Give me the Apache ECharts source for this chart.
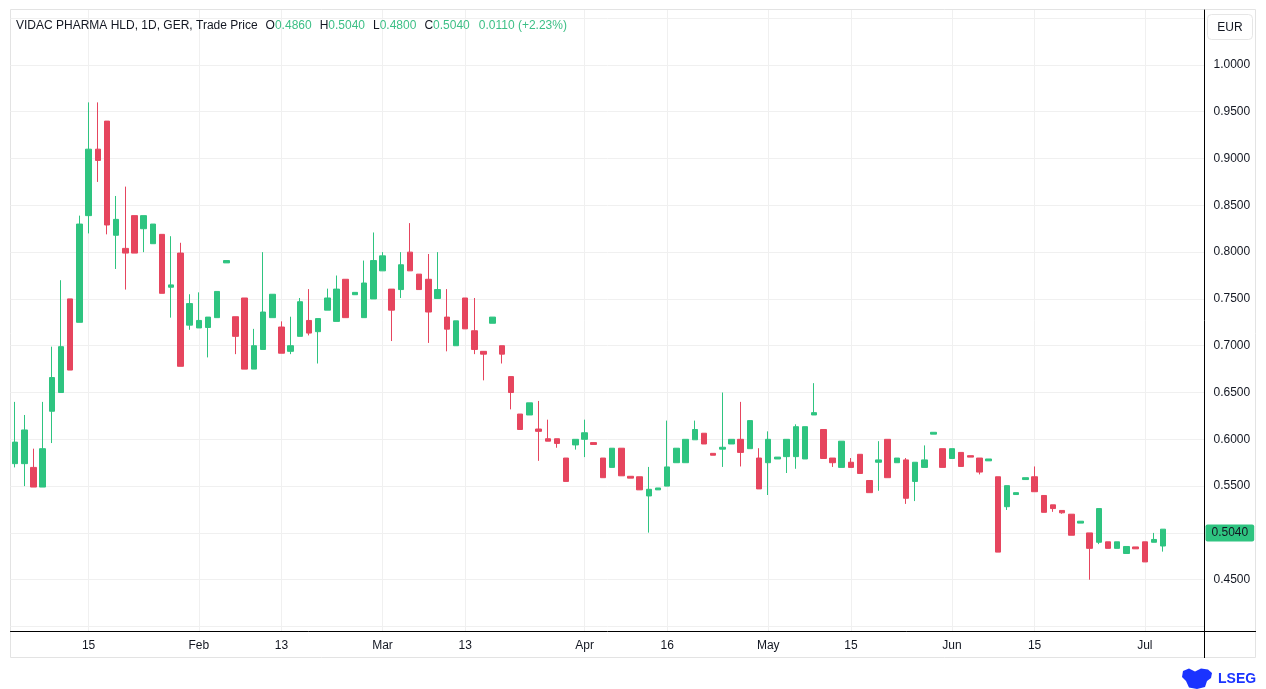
<!DOCTYPE html>
<html>
<head>
<meta charset="utf-8">
<script src="https://cdn.jsdelivr.net/npm/echarts@6/dist/echarts.min.js"></script>
<style>
html,body{margin:0;padding:0;background:#ffffff;}
#chart{width:1266px;height:689px;}
</style>
</head>
<body>
<div id="chart"></div>
<script>
// ---- Instrument / header info ----
const instrumentName = 'VIDAC PHARMA HLD';
const barInterval = '1D';
const exchangeName = 'GER';
const priceField = 'Trade Price';
const currency = 'EUR';

// ---- Daily OHLC values ----
const opens = [
  0.574,0.574,0.570,0.549,0.630,0.650,0.750,0.725,0.839,0.910,
  0.940,0.818,0.804,0.839,0.825,0.809,0.819,0.7625,0.799,0.722,
  0.719,0.7195,0.730,0.7885,0.731,0.751,0.675,0.696,0.730,0.720,
  0.694,0.710,0.727,0.715,0.738,0.726,0.771,0.7545,0.730,0.750,
  0.780,0.7605,0.760,0.800,0.7765,0.771,0.7505,0.7306,0.700,0.751,
  0.716,0.694,0.724,0.700,0.667,0.627,0.626,0.611,0.6006,0.6006,
  0.580,0.594,0.600,0.5965,0.580,0.570,0.5905,0.5605,0.560,0.5395,
  0.546,0.550,0.575,0.575,0.5995,0.6065,0.585,0.5895,0.595,0.600,
  0.590,0.580,0.575,0.579,0.5815,0.5815,0.579,0.626,0.6105,0.580,
  0.570,0.5755,0.584,0.556,0.5755,0.600,0.575,0.578,0.555,0.570,
  0.6055,0.590,0.5795,0.586,0.5825,0.580,0.577,0.560,0.528,0.541,
  0.557,0.560,0.540,0.530,0.524,0.520,0.5105,0.500,0.490,0.4905,
  0.4835,0.478,0.485,0.4905,0.490,0.486
];
const highs = [
  0.640,0.626,0.590,0.640,0.699,0.770,0.750,0.839,0.960,0.960,
  0.940,0.860,0.870,0.839,0.839,0.830,0.819,0.817,0.810,0.755,
  0.757,0.7306,0.758,0.791,0.731,0.751,0.718,0.800,0.755,0.726,
  0.731,0.751,0.7605,0.729,0.761,0.775,0.771,0.757,0.791,0.821,
  0.800,0.7605,0.800,0.831,0.7765,0.798,0.800,0.7605,0.7266,0.751,
  0.751,0.694,0.7306,0.700,0.667,0.627,0.639,0.641,0.621,0.6006,
  0.580,0.600,0.621,0.5965,0.580,0.5905,0.5905,0.5605,0.560,0.5705,
  0.548,0.620,0.5905,0.600,0.620,0.6065,0.585,0.650,0.600,0.640,
  0.620,0.5905,0.6085,0.581,0.600,0.616,0.6135,0.660,0.6105,0.580,
  0.598,0.580,0.584,0.556,0.598,0.600,0.580,0.580,0.5755,0.5935,
  0.6075,0.590,0.590,0.586,0.5825,0.580,0.579,0.560,0.5505,0.543,
  0.559,0.571,0.540,0.530,0.524,0.520,0.5125,0.500,0.526,0.4905,
  0.4905,0.4855,0.485,0.4905,0.500,0.504
];
const lows = [
  0.570,0.550,0.549,0.549,0.596,0.650,0.674,0.725,0.820,0.875,
  0.819,0.782,0.760,0.799,0.800,0.809,0.756,0.730,0.678,0.717,
  0.719,0.6875,0.730,0.7885,0.691,0.675,0.675,0.696,0.730,0.692,
  0.691,0.710,0.711,0.681,0.738,0.726,0.730,0.7545,0.730,0.750,
  0.780,0.705,0.751,0.780,0.760,0.703,0.7505,0.694,0.700,0.718,
  0.691,0.663,0.724,0.681,0.632,0.6105,0.626,0.577,0.598,0.591,
  0.555,0.589,0.581,0.5945,0.559,0.570,0.561,0.5585,0.546,0.5003,
  0.546,0.550,0.575,0.575,0.5995,0.595,0.583,0.5705,0.595,0.571,
  0.590,0.547,0.5405,0.579,0.564,0.5685,0.579,0.626,0.5795,0.5705,
  0.570,0.570,0.5635,0.543,0.545,0.559,0.575,0.531,0.534,0.570,
  0.6055,0.570,0.5795,0.571,0.581,0.5625,0.577,0.4795,0.5245,0.541,
  0.557,0.544,0.522,0.5225,0.5205,0.4975,0.5105,0.450,0.488,0.4835,
  0.4835,0.478,0.483,0.469,0.490,0.480
];
const closes = [
  0.597,0.610,0.549,0.590,0.666,0.699,0.674,0.830,0.910,0.898,
  0.829,0.835,0.799,0.799,0.839,0.830,0.756,0.765,0.678,0.745,
  0.727,0.7306,0.758,0.791,0.710,0.675,0.700,0.736,0.755,0.692,
  0.700,0.747,0.7135,0.729,0.751,0.7605,0.730,0.757,0.767,0.791,
  0.796,0.738,0.7865,0.780,0.760,0.736,0.760,0.7177,0.7266,0.718,
  0.696,0.691,0.7306,0.691,0.650,0.6105,0.639,0.6085,0.598,0.5956,
  0.555,0.600,0.607,0.5945,0.559,0.5905,0.561,0.5585,0.546,0.5466,
  0.548,0.5705,0.5905,0.600,0.6105,0.595,0.583,0.5915,0.600,0.586,
  0.620,0.547,0.600,0.581,0.600,0.6135,0.6135,0.6285,0.5795,0.575,
  0.598,0.570,0.5635,0.543,0.578,0.559,0.580,0.537,0.5755,0.578,
  0.6075,0.570,0.590,0.571,0.581,0.565,0.579,0.4795,0.5505,0.543,
  0.559,0.544,0.522,0.526,0.5215,0.4975,0.5125,0.4835,0.526,0.4835,
  0.4905,0.4855,0.483,0.469,0.493,0.504
];

// ---- Time axis tick labels (bar number -> text) ----
const tickBars   = [8, 20, 29, 40, 49, 62, 71, 82, 91, 102, 111, 123];
const tickLabels = ['15', 'Feb', '13', 'Mar', '13', 'Apr', '16', 'May', '15', 'Jun', '15', 'Jul'];

// ---- Build library structures ----
const FONT = "'Liberation Sans', Arial, sans-serif";
const UP = '#2ec480';
const DOWN = '#e6455e';
const TEXT = '#131722';
const GRID = '#f0f0f0';

const rightPadBars = 4; // empty slots right of the last bar
const categories = [];
for (let i = 0; i < opens.length + rightPadBars; i++) categories.push('bar' + i);
const candleData = opens.map((o, i) => [o, closes[i], lows[i], highs[i]]);

const last = opens.length - 1;
const chg = closes[last] - closes[last - 1];
const pct = chg / closes[last - 1] * 100;
const f4 = v => v.toFixed(4);
const headerText =
  `{n|${instrumentName}, ${barInterval}, ${exchangeName}, ${priceField}}` +
  `{k|O}{v|${f4(opens[last])}}{k|H}{v|${f4(highs[last])}}` +
  `{k|L}{v|${f4(lows[last])}}{k|C}{v|${f4(closes[last])}}` +
  `{c|${f4(chg)} (${chg >= 0 ? '+' : ''}${pct.toFixed(2)}%)}`;

const labelMap = {};
tickBars.forEach((b, k) => { labelMap[b] = tickLabels[k]; });

const chart = echarts.init(document.getElementById('chart'), null, {renderer: 'canvas'});
chart.setOption({
  animation: false,
  backgroundColor: '#ffffff',
  textStyle: {fontFamily: FONT},
  title: {
    text: headerText,
    left: 16,
    top: 20,
    padding: 0,
    textStyle: {
      fontSize: 12,
      fontWeight: 'normal',
      fontFamily: FONT,
      rich: {
        n: {color: TEXT, fontSize: 12, fontWeight: 'normal', fontFamily: FONT},
        k: {color: TEXT, fontSize: 12, fontWeight: 'normal', fontFamily: FONT, padding: [0, 0, 0, 8]},
        v: {color: '#3dbf86', fontSize: 12, fontWeight: 'normal', fontFamily: FONT},
        c: {color: '#3dbf86', fontSize: 12, fontWeight: 'normal', fontFamily: FONT, padding: [0, 0, 0, 9]}
      }
    }
  },
  grid: {left: 10.5, right: 61.5, top: 10, bottom: 57.5, containLabel: false},
  xAxis: {
    type: 'category',
    data: categories,
    boundaryGap: true,
    axisLine: {show: true, lineStyle: {color: '#000000', width: 1}},
    axisTick: {show: false},
    axisLabel: {
      interval: (i) => labelMap[i] !== undefined,
      formatter: (v, i) => labelMap[i] || '',
      margin: 8,
      color: TEXT,
      fontSize: 12,
      fontFamily: FONT
    },
    splitLine: {
      show: true,
      interval: (i) => labelMap[i] !== undefined,
      alignWithLabel: true,
      lineStyle: {color: GRID, width: 1}
    }
  },
  yAxis: {
    type: 'value',
    position: 'right',
    min: 0.39466,
    max: 1.0587,
    minInterval: 0.05,
    maxInterval: 0.05,
    axisLine: {show: true, lineStyle: {color: '#000000', width: 1}},
    axisTick: {show: false},
    axisLabel: {
      margin: 9,
      color: TEXT,
      fontSize: 12,
      fontFamily: FONT,
      lineHeight: 16,
      padding: [2, 0, 0, 0],
      formatter: v => (v > 0.449 && v < 1.001) ? v.toFixed(4) : ''
    },
    splitLine: {show: true, showMinLine: false, showMaxLine: false, lineStyle: {color: GRID, width: 1}}
  },
  series: [{
    type: 'candlestick',
    data: candleData,
    barWidth: 6,
    clip: false,
    itemStyle: {color: UP, color0: DOWN, borderColor: UP, borderColor0: DOWN, borderWidth: 1},
    markLine: {
      silent: true,
      animation: false,
      symbol: ['none', 'none'],
      lineStyle: {color: 'rgba(0,0,0,0)', width: 0},
      data: [{yAxis: closes[last]}],
      label: {
        show: true,
        position: 'end',
        distance: 1,
        formatter: () => f4(closes[last]),
        backgroundColor: UP,
        color: TEXT,
        fontSize: 12,
        fontFamily: FONT,
        padding: [3, 6, 2, 6],
        borderRadius: 2
      }
    }
  }],
  graphic: [
    {type: 'rect', silent: true, z: -10,
     shape: {x: 10.5, y: 9.5, width: 1245, height: 648},
     style: {fill: 'none', stroke: '#e3e3e3', lineWidth: 1}},
    {type: 'line', silent: true,
     shape: {x1: 1204, y1: 631.5, x2: 1256, y2: 631.5},
     style: {stroke: '#000000', lineWidth: 1}},
    {type: 'line', silent: true,
     shape: {x1: 1204.5, y1: 631, x2: 1204.5, y2: 658},
     style: {stroke: '#000000', lineWidth: 1}},
    {type: 'group', left: 1207, top: 14, silent: true, children: [
      {type: 'rect', shape: {x: 0.5, y: 0.5, width: 45, height: 25, r: 4},
       style: {fill: '#ffffff', stroke: '#e6e6e6', lineWidth: 1}},
      {type: 'text', style: {x: 23, y: 13.5, text: currency, fill: TEXT,
       font: '12px ' + FONT, textAlign: 'center', textVerticalAlign: 'middle'}}
    ]},
    {type: 'polygon', silent: true,
     shape: {points: [[1183,671],[1189,668.5],[1195,671.5],[1201,668.5],[1208,669.5],[1212,673],[1211,678],[1207,681],[1205,687],[1197,689],[1189,687.5],[1186,681],[1182,677]]},
     style: {fill: '#1a33ff'}},
    {type: 'text', silent: true,
     style: {x: 1218, y: 679, text: 'LSEG', fill: '#1a33ff',
     font: 'bold 14px ' + FONT, textVerticalAlign: 'middle'}}
  ]
});
</script>
</body>
</html>
